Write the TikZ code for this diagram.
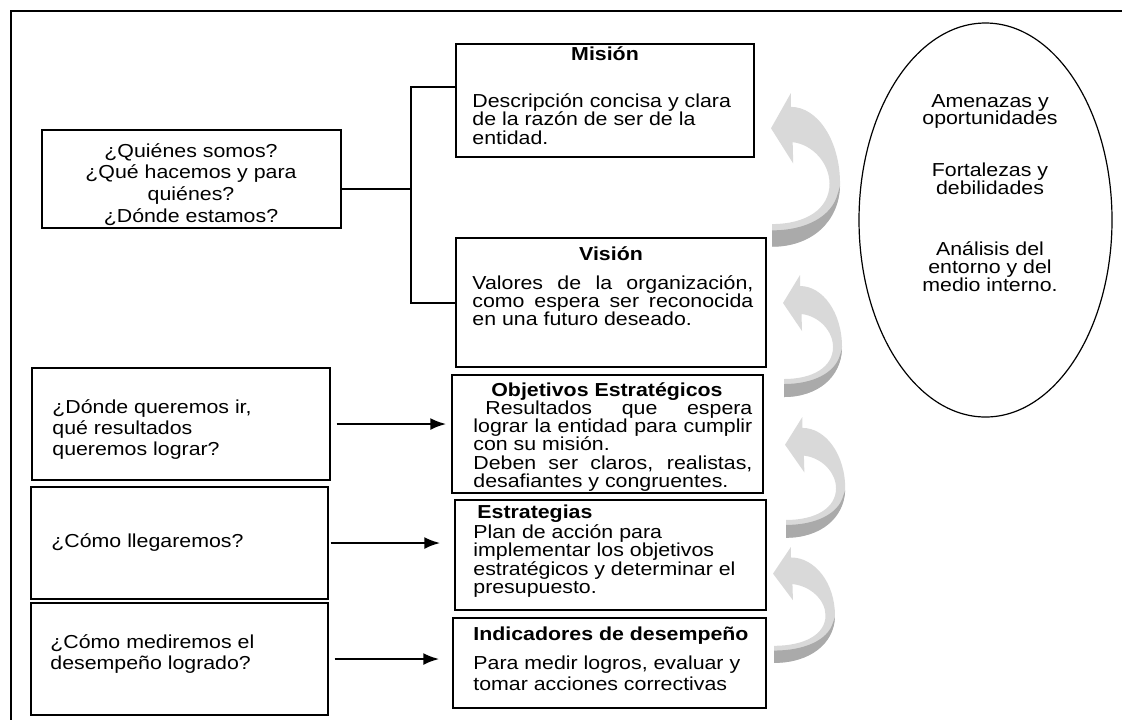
\documentclass[tikz,border=0pt]{standalone}
\usepackage{fontspec}
\setmainfont{Liberation Sans}[FakeStretch=1.135]
\usetikzlibrary{arrows.meta,fit,shapes.geometric}

\definecolor{grisclaro}{RGB}{217,217,217}
\definecolor{grisoscuro}{RGB}{170,170,170}

\newcommand{\lineajust}[2]{\makebox[#1][s]{#2}}

\tikzset{
  caja/.style={draw, line width=0.7pt, inner sep=0pt},
  txt/.style={inner sep=0pt, anchor=base west},
  txtc/.style={inner sep=0pt, anchor=base},
  titulo/.style={font=\fontsize{9.4}{9.4}\selectfont\bfseries},
  linea/.style={line width=1pt},
  flecha/.style={line width=1.2pt, -{Latex[length=8pt,width=6pt]}},
  curva/.pic={
    \fill[grisclaro] (17,0) -- (0,28) -- (19,56) -- (18.5,39)
      .. controls (36,41) and (50,56) .. (50,72)
      .. controls (50,92) and (30,104) .. (1,104) -- (1,122)
      .. controls (35,122) and (59,100) .. (59,72)
      .. controls (59,38) and (40,11) .. (17,11) -- cycle;
    \fill[grisoscuro] (59,74) .. controls (58,102) and (35,122) .. (1,122)
      -- (1,109) .. controls (30,109) and (52,98) .. (57,80) -- cycle;
  }
}

\begin{document}
\begin{tikzpicture}[x=0.5pt, y=-0.5pt, font=\fontsize{9.4}{9.4}\selectfont]
\useasboundingbox (0,0) rectangle (1122,720);

% marco
\draw[line width=1pt] (1122,11) -- (11,11) -- (11,720);

% cajas de la izquierda
\node[caja, fit={(42,130) (341,228)}] (q1) {};
\node[caja, fit={(32,368) (330,480)}] (q2) {};
\node[caja, fit={(31,487) (328,599)}] (q3) {};
\node[caja, fit={(31,603) (328,715)}] (q4) {};

% cajas del centro
\node[caja, fit={(456,44) (754,157)}] (mis) {};
\node[caja, fit={(456,238) (766,367)}] (vis) {};
\node[caja, fit={(452,375) (763,493)}] (obj) {};
\node[caja, fit={(455,500) (766,610)}] (est) {};
\node[caja, fit={(453,618) (766,708)}] (ind) {};

% elipse
\node[draw, ellipse, line width=0.6pt, inner sep=0pt,
      minimum width=126.5pt, minimum height=197pt] (entorno) at (985.5,220) {};

% textos izquierda
\foreach \t [count=\i] in {¿Quiénes somos?, ¿Qué hacemos y para, quiénes?, ¿Dónde estamos?}
  \node[txtc] (q1t\i) at (191, {157+21.7*(\i-1)}) {\t};
\foreach \t [count=\i] in {{¿Dónde queremos ir,}, qué resultados, queremos lograr?}
  \node[txt] (q2t\i) at (52, {413+21*(\i-1)}) {\t};
\node[txt] (q3t1) at (51,547) {¿Cómo llegaremos?};
\foreach \t [count=\i] in {¿Cómo mediremos el, desempeño logrado?}
  \node[txt] (q4t\i) at (50, {648+21*(\i-1)}) {\t};

% mision
\node[txtc, titulo] (mist) at (605,60) {Misión};
\foreach \t [count=\i] in {Descripción concisa y clara, de la razón de ser de la, entidad.}
  \node[txt] (mis\i) at (472, {107+18.5*(\i-1)}) {\t};

% vision
\node[txtc, titulo] (vist) at (611,260) {Visión};
\node[txt] (vis1) at (472,289) {\lineajust{140.5pt}{Valores de la organización,}};
\node[txt] (vis2) at (472,307) {\lineajust{140.5pt}{como espera ser reconocida}};
\node[txt] (vis3) at (472,325) {en una futuro deseado.};

% objetivos
\node[txtc, titulo] (objt) at (607,396) {Objetivos Estratégicos};
\node[txt] (obj1) at (485,414) {\lineajust{133.5pt}{Resultados que espera}};
\node[txt] (obj2) at (473,432.5) {\lineajust{139.5pt}{lograr la entidad para cumplir}};
\node[txt] (obj3) at (473,450.5) {con su misión.};
\node[txt] (obj4) at (473,469) {\lineajust{139.5pt}{Deben ser claros, realistas,}};
\node[txt] (obj5) at (473,487) {desafiantes y congruentes.};

% estrategias
\node[txt, titulo] (estt) at (477,518) {Estrategias};
\foreach \t [count=\i] in {Plan de acción para, implementar los objetivos, estratégicos y determinar el, presupuesto.}
  \node[txt] (est\i) at (473, {538+18.5*(\i-1)}) {\t};

% indicadores
\node[txt, titulo] (indt) at (473,640) {Indicadores de desempeño};
\foreach \t [count=\i] in {{Para medir logros, evaluar y}, tomar acciones correctivas}
  \node[txt] (ind\i) at (473, {669+21*(\i-1)}) {\t};

% textos elipse
\node[txtc] (ent1) at (990,107) {Amenazas y};
\node[txtc] (ent2) at (990,124) {oportunidades};
\node[txtc] (ent3) at (990,176) {Fortalezas y};
\node[txtc] (ent4) at (990,194) {debilidades};
\node[txtc] (ent5) at (990,255) {Análisis del};
\node[txtc] (ent6) at (990,273) {entorno y del};
\node[txtc] (ent7) at (990,291) {medio interno.};

% llave mision / vision
\coordinate (bx) at (411,0);
\draw[linea] ([yshift=-5pt]q1.east) -- ([yshift=-5pt]q1.east -| bx);
\draw[linea] ([yshift=6.75pt]mis.west) -| (bx |- vis.west) -- (vis.west);

% flechas
\draw[flecha, shorten <=3pt, shorten >=2.5pt] (q2.east) -- (q2.east -| obj.west);
\draw[flecha, shorten <=1pt, shorten >=7pt] (q3.east) -- (q3.east -| est.west);
\draw[flecha, shorten <=3pt, shorten >=6.5pt] (q4.east) -- (q4.east -| ind.west);

% flechas curvas
\pic[xscale=1.17, yscale=1.26] at (771,93) {curva};
\pic at (783,275) {curva};
\pic[xscale=1.02, yscale=0.99] at (785,417) {curva};
\pic[xscale=1.05, yscale=0.95] at (773,547) {curva};

\end{tikzpicture}
\end{document}
